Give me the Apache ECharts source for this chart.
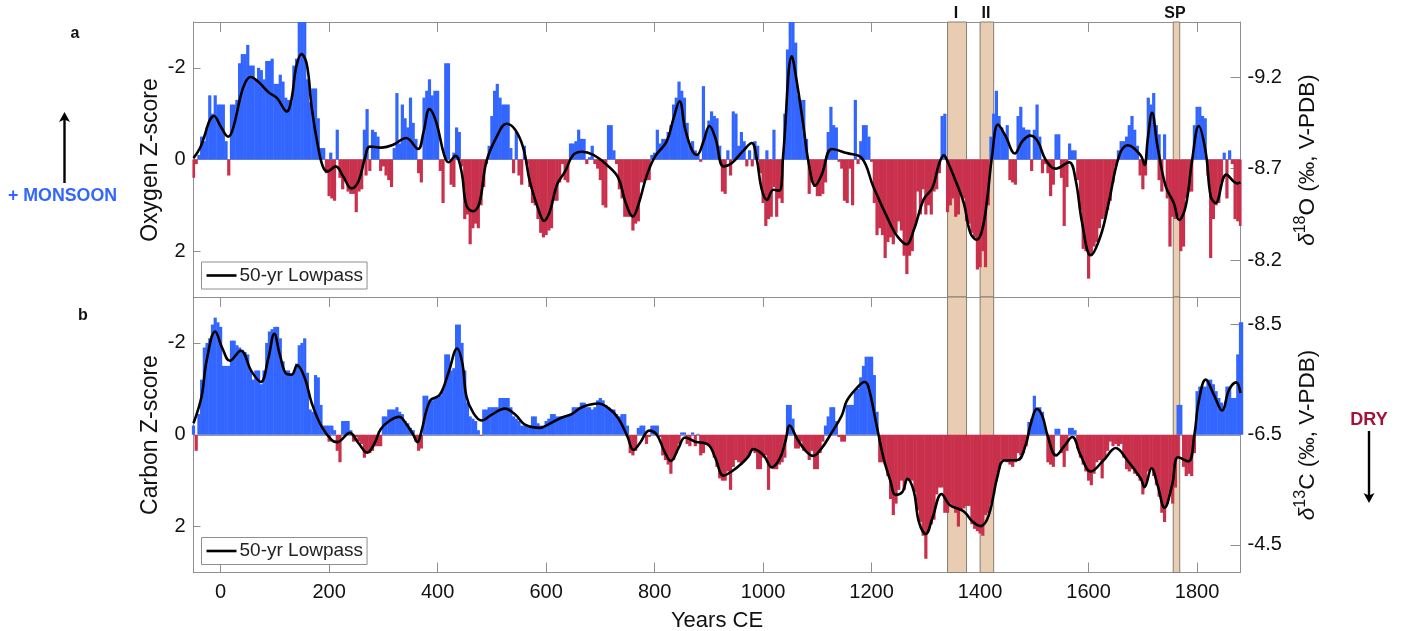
<!DOCTYPE html>
<html>
<head>
<meta charset="utf-8">
<style>
html, body { margin: 0; padding: 0; background: #fff; }
#chart { width: 1403px; height: 631px; }
</style>
<script src="https://cdn.jsdelivr.net/npm/echarts@6/dist/echarts.min.js"></script>
</head>
<body>
<div id="chart"></div>
<script>
// z-scores in 5 yr steps, starting at 50 BCE (negative = wet, drawn upwards)
const startYear = -50, stepYears = 5;
const oxygenZ = [
    0.4, 0.1, -0.1, -0.5, -0.4, -0.7, -1.4, -1.0, -1.4, -1.2,
    -1.2, -1.2, -0.4, 0.35, -1.2, -1.2, -1.3, -2.1, -2.3, -2.3, -2.5, -2.05, -2.05, -1.75, -2.0, -1.95, -1.75, -2.15, -2.15, -2.2,
    -1.65, -1.65, -1.85, -1.7, -1.35, -1.3, -1.25, -2.05, -2.2, -3, -3, -3, -1.75, -1.25, -1.55, -1.55, -0.9, -0.25, -0.25, 0.3,
    0.8, 0.85, 0.9, -0.65, 0.4, 0.65, 0.45, 0.7, 0.75, 0.75, 1.15, 0.7, 0.65, -0.65, -1.1, 0.25, -0.65, -0.6, -0.5, 0.25,
    0.15, 0.35, 0.45, 0.6, -0.25, -1.45, -0.35, -1.2, -0.9, -0.7, -1.35, -0.8, -0.45, 0.3, 0.5, -1.35, -1.5, -1.75, -1.4, -1.5,
    -1.5, 0.25, 0.95, -2.1, -2.1, 0.55, 0.6, -0.7, -0.6, 0.15, 1.3, 1.2, 1.85, 1.5, 1.4, 1.5, 1.0, 0.6, 0.1, -0.3,
    -0.95, -1.5, -1.65, -1.35, -1.2, -1.2, -1.2, -0.25, 0.3, -0.6, 0.35, 0.55, -0.3, 0.1, 0.6, 0.95, 1.0, 1.3, 1.6, 1.7,
    1.65, 1.55, 1.5, 0.9, 0.9, 0.5, 0.1, 0.45, 0.5, -0.35, -0.35, -0.4, -0.65, -0.45, -0.45, 0.1, -0.05, -0.3, 0.1, 0.2,
    0.45, 1.0, 1.05, -0.75, -0.75, -0.2, 0.1, 0.65, 0.85, 1.25, 1.25, 1.25, 1.55, 1.4, 1.35, 0.5, 0.5, 0.45, 0.45, -0.1,
    -0.15, -0.65, -0.35, -0.45, -0.45, -0.6, -0.75, -1.2, -1.35, -1.7, -1.5, -1.35, -0.8, -0.3, -0.4, -0.2, -0.1, 0.05, -1.6, -0.6,
    -0.85, -1.05, -0.95, -0.9, -0.3, 0.7, 0.75, -0.2, 0.35, -1.05, -1.0, -0.3, -0.6, -0.4, 0.15, -0.2, 0.15, -0.4, -0.3, 0.3,
    0.95, 1.45, 1.3, 1.25, 0.6, 1.25, 0.85, 0.95, -1.0, -2.4, -3, -3, -2.55, -1.4, -1.3, -1.3, -0.45, 0.75, 0.5, 0.6,
    0.8, 0.8, 0.75, 0.5, -0.6, -1.15, -0.75, -0.7, 0.05, 0.2, 0.9, 0.95, 0.2, 1.0, -1.3, 0.1, -0.4, -0.75, -0.75, -0.5,
    0.05, 0.95, 1.65, 1.5, 1.65, 2.15, 1.8, 1.7, 1.85, 1.6, 1.35, 1.55, 2.1, 2.5, 2.1, 2.0, 1.45, 0.7, 1.2, 0.65,
    1.2, 1.0, 1.2, 0.7, 0.65, 0.3, -0.95, -1.0, 1.15, 1.0, 0.85, 1.25, 1.2, 0.75, 0.85, 1.35, 1.4, 1.6, 1.7, 2.4,
    2.35, 2.0, 2.35, 1.0, -0.5, -1.0, -1.5, -0.95, -0.7, -0.55, -0.75, 0.45, 0.5, 0.55, -0.95, -1.15, -0.7, -0.65, -0.65, 0.25,
    -0.65, -1.2, -0.5, 0.3, 0.1, 0.3, 0.8, 0.55, -0.55, -0.55, 0.4, 1.45, 0.6, -0.35, -0.2, -0.2, 0.45, 1.1, 1.95, 2.0,
    2.6, 2.1, 1.9, 1.8, 1.5, 1.3, 1.25, 1.1, 0.9, 0.5, 0.15, -0.2, -0.4, -0.4, -0.5, -0.75, -0.95, -0.65, -0.3, 0.35,
    0.65, 0.35, -1.35, -1.2, -1.45, -0.75, -0.55, 0.7, -0.55, 0.85, 1.9, 1.25, 1.3, 1.25, 2.0, 1.9, 0.85, 0.7, 0.7, -0.75,
    -1.15, -1.15, -0.95, -0.9, 0.35, 2.15, 1.3, 1.0, 0.95, 0.5, -0.15, 0.85, -0.2, 0.1, 1.3, 1.35, 1.45
];
const carbonZ = [
    -0.2, 0.35, -0.45, -1.2, -1.9, -2.0, -2.1, -2.4, -2.55, -2.45,
    -2.35, -1.5, -1.5, -1.5, -2.05, -2.05, -1.95, -1.9, -1.85, -1.8, -1.75, -1.4, -1.2, -1.4, -1.4, -1.1, -1.4, -2.0, -2.25, -2.3,
    -2.35, -2.35, -2.1, -1.6, -1.4, -1.4, -1.3, -1.35, -1.55, -1.95, -2.0, -2.1, -1.35, -0.55, -0.5, -1.3, -1.25, -0.65, -0.2, -0.2,
    -0.2, -0.2, -0.1, 0.35, 0.6, -0.3, -0.3, -0.3, -0.1, 0.15, 0.05, 0.15, 0.2, 0.5, 0.4, 0.4, 0.35, 0.25, 0.25, 0.25,
    -0.4, -0.4, -0.55, -0.55, -0.55, -0.6, -0.5, -0.45, -0.3, -0.25, -0.15, -0.1, 0.15, 0.35, 0.3, -0.85, -0.85, -0.75, -0.75, -0.8,
    -0.8, -0.85, -1.0, -1.75, -1.75, -1.4, -1.45, -2.4, -2.4, -2.0, -1.4, -0.7, -0.4, -0.35, -0.3, -0.1, 0.02, -0.55, -0.55, -0.6,
    -0.6, -0.6, -0.6, -0.8, -0.8, -0.8, -0.8, -0.6, -0.4, -0.35, -0.3, -0.2, -0.2, -0.2, -0.2, -0.4, -0.4, -0.25, -0.2, -0.15,
    -0.3, -0.35, -0.45, -0.45, -0.4, -0.4, -0.4, -0.4, -0.4, -0.45, -0.6, -0.6, -0.6, -0.7, -0.7, -0.6, -0.6, -0.55, -0.6, -0.75,
    -0.8, -0.75, -0.65, -0.6, -0.55, -0.55, -0.45, -0.4, -0.45, -0.45, -0.2, 0.4, 0.45, 0.35, -0.15, -0.2, -0.2, 0.2, 0.05, -0.2,
    -0.2, -0.2, 0.05, 0.45, 0.55, 0.65, 0.85, 0.55, 0.4, 0.2, -0.05, -0.05, 0.2, 0.25, -0.05, 0.25, -0.02, 0.45, 0.4, 0.2,
    0.25, 0.3, 0.5, 0.7, 0.95, 1.0, 1.0, 0.8, 1.2, 0.7, 0.55, 0.6, 0.65, 0.55, 0.5, 0.45, 0.35, 0.4, 0.75, 0.75,
    0.5, 0.45, 1.2, 0.7, 0.75, 0.75, 0.65, 0.6, 0.5, -0.65, -0.65, -0.35, 0.3, 0.3, 0.15, 0.35, 0.35, 0.55, 0.35, 0.75,
    0.75, 0.4, 0.15, -0.2, -0.4, -0.6, -0.6, -0.3, 0.05, 0.15, 0.15, -0.65, -0.65, -0.65, -0.95, -1.0, -1.25, -1.5, -1.7, -1.7,
    -1.7, -1.3, -0.5, 0.6, 0.6, 0.65, 0.9, 1.4, 1.75, 1.5, 1.2, 1.0, 1.2, 0.95, 1.0, 1.0, 1.25, 1.65, 1.9, 2.2,
    2.7, 2.1, 1.95, 1.85, 1.3, 1.15, 1.15, 1.7, 1.7, 1.5, 1.55, 1.7, 2.0, 1.65, 1.6, 1.55, 1.55, 1.95, 2.05, 2.1,
    2.15, 2.2, 1.75, 1.7, 1.5, 1.3, 1.0, 0.75, 0.55, 0.55, 0.6, 0.65, 0.7, 0.6, 0.4, 0.45, 0.4, 0.25, -0.28, -0.35,
    -0.85, -0.6, -0.6, -0.5, -0.15, 0.6, 0.65, 0.7, -0.13, -0.13, 0.4, 0.7, 0.35, -0.15, -0.15, -0.1, 0.3, 0.5, 0.65, 0.8,
    1.0, 1.1, 0.85, 0.6, 0.55, 0.95, 0.5, 0.35, 0.15, 0.25, 0.2, 0.25, 0.2, 0.5, 0.75, 0.8, 0.75, 0.85, 0.9, 1.0,
    1.3, 1.1, 0.8, 0.75, 0.9, 1.1, 1.35, 1.7, 1.9, 1.5, 1.25, 1.5, 1.15, -0.65, -0.65, 0.7, 0.9, 0.85, 0.9, 0.4,
    -0.95, -1.05, -1.05, -1.05, -1.2, -1.2, -1.1, -0.95, -0.8, -0.7, -0.55, -1.05, -1.05, -0.8, -0.8, -1.75, -2.45, -2.45
];
// bars of the other sign that overlap a neighbour, [year, z]
const oxygenExtra = [[203, -0.15], [268, 0.35], [430, -0.15], [1007, -0.2], [1020, -0.65], [1730, 0.45]];
const carbonExtra = [[200, 0.15], [1765, 0.5]];

// 50-yr lowpass read at its turning points, [year, z]
const oxygenLow = [[-50, -0.03], [-38, -0.25], [-12, -0.95], [2, -0.68], [14, -0.5], [23, -0.68], [36, -1.34], [45, -1.67], [55, -1.8], [70, -1.69], [88, -1.47], [104, -1.34], [122, -1.05], [131, -1.34], [139, -2.0], [149, -2.3], [159, -2.07], [168, -1.12], [180, -0.25], [189, 0.17], [197, 0.26], [212, 0.15], [226, 0.37], [241, 0.63], [254, 0.48], [266, -0.03], [275, -0.28], [297, -0.26], [318, -0.32], [342, -0.47], [364, -0.23], [374, -0.6], [385, -1.1], [397, -0.83], [412, -0.1], [420, 0.06], [433, -0.08], [444, 0.26], [453, 1.0], [465, 1.13], [477, 0.95], [490, 0.04], [509, -0.5], [527, -0.78], [543, -0.65], [558, -0.25], [570, 0.48], [589, 1.2], [596, 1.34], [607, 1.13], [620, 0.55], [635, 0.26], [650, -0.1], [666, -0.17], [687, -0.1], [712, 0.12], [733, 0.4], [746, 0.92], [760, 1.24], [770, 0.99], [786, 0.33], [801, -0.07], [822, -0.39], [835, -0.9], [846, -1.27], [856, -0.68], [869, -0.2], [878, -0.1], [890, -0.39], [901, -0.73], [912, -0.47], [927, 0.15], [942, 0.08], [964, -0.2], [979, -0.36], [988, -0.03], [997, 0.63], [1007, 0.88], [1019, 0.66], [1030, 0.68], [1037, -0.1], [1053, -2.25], [1062, -1.7], [1074, -0.76], [1084, 0.08], [1096, 0.57], [1108, 0.33], [1127, -0.23], [1154, -0.14], [1182, -0.03], [1203, 0.59], [1235, 1.42], [1247, 1.67], [1264, 1.85], [1278, 1.53], [1296, 0.87], [1312, 0.62], [1324, 0.11], [1333, -0.09], [1341, 0.07], [1355, 0.47], [1370, 0.95], [1382, 1.6], [1394, 1.75], [1404, 1.53], [1413, 0.87], [1422, -0.07], [1433, -0.76], [1447, -0.51], [1464, -0.13], [1478, -0.4], [1493, -0.52], [1506, -0.4], [1521, 0.01], [1539, 0.2], [1564, 0.06], [1576, 0.44], [1588, 1.38], [1604, 2.09], [1622, 1.67], [1637, 0.95], [1656, -0.07], [1672, -0.31], [1696, -0.09], [1703, 0.12], [1709, -0.44], [1717, -1.02], [1727, -0.29], [1742, 0.58], [1757, 0.95], [1767, 1.32], [1779, 1.02], [1791, 0], [1803, -0.73], [1816, -0.15], [1825, 0.8], [1834, 0.95], [1854, 0.33], [1874, 0.52], [1880, 0.5]];
const carbonLow = [[-50, -0.25], [-35, -0.84], [-26, -1.6], [-10, -2.25], [3, -1.89], [17, -1.61], [37, -1.83], [57, -1.38], [74, -1.15], [88, -1.67], [99, -2.2], [109, -1.75], [122, -1.32], [131, -1.31], [141, -1.51], [155, -1.24], [168, -0.69], [186, -0.18], [205, 0.12], [215, 0.16], [238, -0.04], [254, 0.18], [270, 0.39], [284, 0.18], [295, -0.12], [312, -0.31], [329, -0.39], [343, -0.22], [355, 0], [363, 0.16], [370, -0.07], [386, -0.74], [404, -0.87], [420, -1.35], [436, -1.88], [446, -1.53], [453, -0.84], [466, -0.47], [481, -0.31], [500, -0.44], [524, -0.57], [543, -0.44], [561, -0.22], [589, -0.15], [600, -0.2], [626, -0.36], [647, -0.45], [666, -0.6], [696, -0.68], [715, -0.58], [733, -0.36], [750, 0.04], [761, 0.33], [773, 0.18], [790, -0.09], [804, 0], [818, 0.36], [830, 0.57], [844, 0.29], [856, 0.06], [875, 0.15], [899, 0.22], [912, 0.51], [927, 0.89], [942, 0.8], [961, 0.62], [973, 0.47], [982, 0.31], [1001, 0.45], [1016, 0.71], [1031, 0.51], [1041, 0.15], [1049, -0.2], [1062, 0.07], [1077, 0.33], [1092, 0.46], [1108, 0.29], [1124, 0], [1145, -0.42], [1154, -0.73], [1170, -0.98], [1187, -1.15], [1194, -1.05], [1209, -0.22], [1222, 0.51], [1235, 1.02], [1244, 1.31], [1257, 1.24], [1266, 0.96], [1278, 1.24], [1287, 1.89], [1300, 2.16], [1312, 1.82], [1329, 1.29], [1344, 1.53], [1370, 1.67], [1386, 1.89], [1401, 1.99], [1416, 1.75], [1432, 0.91], [1444, 0.56], [1469, 0.55], [1484, 0.22], [1493, -0.22], [1505, -0.56], [1515, -0.4], [1524, 0], [1540, 0.45], [1555, 0.25], [1570, 0.05], [1585, 0.44], [1604, 0.8], [1628, 0.55], [1650, 0.29], [1671, 0.55], [1696, 0.95], [1703, 1.14], [1716, 0.73], [1727, 1.09], [1740, 1.59], [1754, 1.09], [1765, 0.49], [1784, 0.58], [1795, 0], [1803, -0.73], [1816, -1.2], [1831, -0.87], [1846, -0.53], [1859, -0.98], [1872, -1.14], [1880, -0.91]];

// shaded periods, [start, end]
const bands = [[1340, 1375], [1400, 1425], [1756, 1768]];

const yearTicks = [0, 200, 400, 600, 800, 1000, 1200, 1400, 1600, 1800];
const zTicks = [-2, 0, 2];
const d18OTicks = [-9.2, -8.7, -8.2];
const d13CTicks = [-8.5, -6.5, -4.5];

const BLUE = '#3366ff', RED = '#c9304c', GREY = '#8f8f8f', FONT = '"Liberation Sans"';
const LOW = '50-yr Lowpass';

function barData(values, extra) {
    let out = values.map((v, i) => [startYear + i * stepYears, v]);
    return out.concat(extra);
}

function xAxisFor(gridIndex, position, withLabels) {
    return {
        type: 'value', gridIndex: gridIndex, position: position, min: -50, max: 1880,
        splitLine: { show: false },
        axisLine: { onZero: false, lineStyle: { color: GREY, width: 1 } },
        axisTick: { inside: true, length: 10, lineStyle: { color: GREY }, customValues: yearTicks },
        axisLabel: {
            show: withLabels, customValues: yearTicks, margin: 10, color: '#111', fontSize: 20, fontFamily: FONT,
            formatter: v => String(v)
        }
    };
}

function zAxisFor(gridIndex) {
    return {
        type: 'value', gridIndex: gridIndex, position: 'left', inverse: true, min: -3, max: 3,
        splitLine: { show: false },
        axisLine: { onZero: false, show: true, lineStyle: { color: GREY, width: 1 } },
        axisTick: { show: true, inside: true, length: 7, lineStyle: { color: GREY }, customValues: zTicks },
        axisLabel: { customValues: zTicks, margin: 8, color: '#111', fontSize: 20, fontFamily: FONT }
    };
}

function rawAxisFor(gridIndex, min, max, ticks) {
    return {
        type: 'value', gridIndex: gridIndex, position: 'right', inverse: true, min: min, max: max,
        splitLine: { show: false },
        axisLine: { onZero: false, show: true, lineStyle: { color: GREY, width: 1 } },
        axisTick: { show: true, inside: true, length: 10, lineStyle: { color: GREY }, customValues: ticks },
        axisLabel: { customValues: ticks, margin: 7, color: '#111', fontSize: 20, fontFamily: FONT, formatter: v => v.toFixed(1) }
    };
}

function panelSeries(xIndex, yIndex, bars, extra, low) {
    return [{
        type: 'line', xAxisIndex: xIndex, yAxisIndex: yIndex, data: [], silent: true,
        markArea: {
            silent: true,
            itemStyle: { color: '#e8cdb3', borderColor: '#857d72', borderWidth: 1 },
            data: bands.map(b => [{ xAxis: b[0] }, { xAxis: b[1] }])
        }
    }, {
        type: 'bar', xAxisIndex: xIndex, yAxisIndex: yIndex, barWidth: 3.2, z: 2,
        data: barData(bars, extra),
        itemStyle: { color: p => p.value[1] < 0 ? BLUE : RED },
        markLine: {
            silent: true, symbol: 'none', z: 2, label: { show: false }, animation: false,
            lineStyle: { color: '#999', width: 1, type: 'solid' },
            data: [{ yAxis: 0 }]
        }
    }, {
        name: LOW, type: 'line', xAxisIndex: xIndex, yAxisIndex: yIndex, z: 3,
        data: low, smooth: 0.4, showSymbol: false, symbol: 'none',
        lineStyle: { color: '#000', width: 2.6 }, itemStyle: { color: '#000' }
    }];
}

function legendAt(top) {
    return {
        left: 201.5, top: top, data: [{ name: LOW, icon: 'rect' }], itemWidth: 30, itemHeight: 2.6, itemGap: 0,
        padding: [4, 4, 4, 5], selectedMode: false, z: 10,
        backgroundColor: '#fff', borderColor: '#8f8f8f', borderWidth: 1,
        itemStyle: { color: '#000' },
        textStyle: { color: '#222', fontSize: 19, lineHeight: 19, fontFamily: FONT, padding: [0, 0, 0, -2] }
    };
}

function label(text, x, y, size, color, bold) {
    return {
        type: 'text', x: x, y: y, z: 20, silent: true,
        style: {
            text: text, fill: color, align: 'center', verticalAlign: 'middle',
            font: (bold ? 'bold ' : '') + size + 'px ' + FONT
        }
    };
}

function sideLabel(text, x, y) {
    return {
        type: 'text', x: x, y: y, rotation: Math.PI / 2, z: 20, silent: true,
        style: { text: text, fill: '#111', align: 'center', verticalAlign: 'middle', font: '23px ' + FONT }
    };
}

function isotopeLabel(sup, elem, x, y) {
    return {
        type: 'text', x: x, y: y, rotation: Math.PI / 2, z: 20, silent: true,
        style: {
            text: '{d|δ}{s|' + sup + '}{t|' + elem + ' (‰, V-PDB)}',
            align: 'center', verticalAlign: 'middle', fill: '#111',
            rich: {
                d: { font: 'italic 22.5px ' + FONT, fill: '#111', verticalAlign: 'bottom' },
                s: { font: '16px ' + FONT, fill: '#111', verticalAlign: 'top', lineHeight: 26 },
                t: { font: '22.5px ' + FONT, fill: '#111', verticalAlign: 'bottom' }
            }
        }
    };
}

function arrow(x, y0, y1) {
    let dir = y1 > y0 ? 1 : -1;
    return [{
        type: 'line', z: 20, silent: true,
        shape: { x1: x, y1: y0, x2: x, y2: y1 - dir * 4 },
        style: { stroke: '#000', lineWidth: 2.4 }
    }, {
        type: 'polygon', z: 20, silent: true,
        shape: { points: [[x, y1], [x - 5.5, y1 - dir * 10], [x, y1 - dir * 7.5], [x + 5.5, y1 - dir * 10]] },
        style: { fill: '#000' }
    }];
}

let myChart = echarts.init(document.getElementById('chart'));

let option = {
    animation: false,
    backgroundColor: '#fff',
    grid: [
        { left: 193.5, top: 22, width: 1047, height: 275, outerBoundsMode: 'none' },
        { left: 193.5, top: 297, width: 1047, height: 275.5, outerBoundsMode: 'none' }
    ],
    xAxis: [
        xAxisFor(0, 'top', false),
        Object.assign(xAxisFor(1, 'bottom', true), {
            name: 'Years CE', nameLocation: 'middle', nameGap: 37,
            nameTextStyle: { color: '#111', fontSize: 22, fontFamily: FONT }
        }),
        xAxisFor(1, 'top', false)
    ],
    yAxis: [
        zAxisFor(0),
        rawAxisFor(0, -9.5, -8.0, d18OTicks),
        zAxisFor(1),
        rawAxisFor(1, -9, -4, d13CTicks)
    ],
    legend: [legendAt(262), legendAt(537.5)],
    series: panelSeries(0, 0, oxygenZ, oxygenExtra, oxygenLow)
        .concat(panelSeries(1, 2, carbonZ, carbonExtra, carbonLow)),
    graphic: [
        label('I', 956, 14, 16, '#111', true),
        label('II', 986, 14, 16, '#111', true),
        label('SP', 1175, 14, 16, '#111', true),
        label('a', 75, 34, 16, '#111', true),
        label('b', 83, 316, 16, '#111', true),
        label('+ MONSOON', 62.5, 196, 17.8, BLUE, true),
        label('DRY', 1369, 420, 18, '#a5133a', true),
        sideLabel('Oxygen Z-score', 151, 160),
        sideLabel('Carbon Z-score', 151, 435),
        isotopeLabel('18', 'O', 1306, 160),
        isotopeLabel('13', 'C', 1306, 435)
    ].concat(arrow(64.5, 183, 112), arrow(1369, 431, 503))
};
myChart.setOption(option);
</script>
</body>
</html>
